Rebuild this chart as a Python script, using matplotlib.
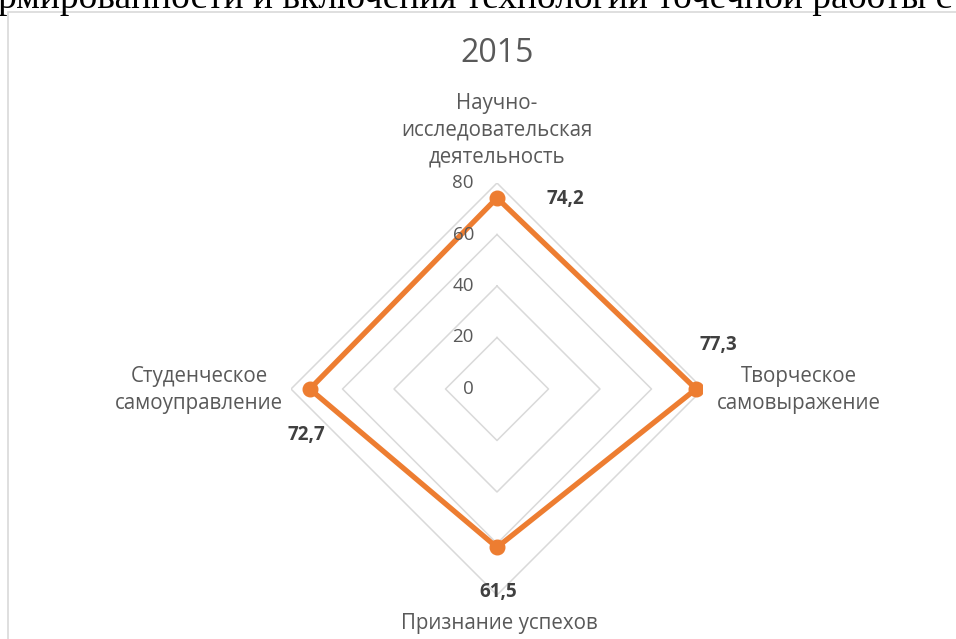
import numpy as np
import matplotlib
matplotlib.use("Agg")
import matplotlib.pyplot as plt
from matplotlib.patches import Rectangle

# data
categories = ["Научно-\nисследовательская\nдеятельность",
              "Творческое\nсамовыражение",
              "Признание успехов",
              "Студенческое\nсамоуправление"]
values = [74.2, 77.3, 61.5, 72.7]
value_labels = ["74,2", "77,3", "61,5", "72,7"]
rings = [20, 40, 60, 80]
tick_values = [0, 20, 40, 60, 80]
title = "2015"
doc_line = "рмированности и включения технологии точечной работы с"

ORANGE = "#ED7D31"
GRID = "#D9D9D9"
GRAY = "#595959"
DARK = "#404040"
FONT = ["Open Sans", "DejaVu Sans"]

W, H = 956, 639
fig = plt.figure(figsize=(W / 100, H / 100), dpi=100)
fig.patch.set_facecolor("white")

# chart frame (Word embedded chart border)
fig.patches.append(Rectangle((7.5 / W, -0.1), 1.2, (H - 12) / H + 0.1,
                             transform=fig.transFigure, fill=False,
                             edgecolor=GRID, linewidth=1.2))

# cut-off line of document text above the chart
fig.text(-2 / W, 1 - 8 / H, doc_line, family=["Liberation Serif"],
         fontsize=27, color="black", ha="left", va="baseline")

cx, cy, R = 497, H - 389, 206
ax = fig.add_axes([(cx - R) / W, (cy - R) / H, 2 * R / W, 2 * R / H],
                  projection="polar")
ax.set_theta_zero_location("N")
ax.set_theta_direction(-1)
ax.set_ylim(0, 80)
ax.grid(False)
ax.spines["polar"].set_visible(False)
ax.set_xticks([])
ax.set_yticks([])
ax.patch.set_alpha(0)

n = len(values)
theta = np.arange(n) * 2 * np.pi / n
closed_t = np.append(theta, theta[0])

for r in rings:
    ax.plot(closed_t, [r] * (n + 1), color=GRID, lw=1.1, zorder=1)

ax.plot(closed_t, values + values[:1], color=ORANGE, lw=3.8, zorder=3,
        solid_joinstyle="round")
ax.plot(theta, values, "o", color=ORANGE, ms=10.5, zorder=4)

# radial tick labels
for v in tick_values:
    ax.annotate(str(v), (0, v), xytext=(-23, 0), textcoords="offset pixels",
                ha="right", va="center", fontsize=13.5, color=GRAY,
                family=FONT)

# data labels
offsets = [(68, -1), (22, 44), (1, -45), (-3, -46)]
for t, v, lab, off in zip(theta, values, value_labels, offsets):
    ax.annotate(lab, (t, v), xytext=off, textcoords="offset pixels",
                ha="center", va="center", fontsize=13.5, color=DARK,
                fontweight="bold", family=FONT)

# category labels
cat_offsets = [(0, 53), (96, -1), (2, -28), (-92, -1)]
for t, lab, off in zip(theta, categories, cat_offsets):
    ax.annotate(lab, (t, 80), xytext=off, textcoords="offset pixels",
                ha="center", va="center", ma="center", fontsize=14.8,
                color=GRAY, family=FONT, linespacing=1.35,
                annotation_clip=False)

fig.text(cx / W, 1 - 54 / H, title, ha="center", va="center",
         fontsize=23, color=GRAY, family=FONT)

fig.savefig("out.png", dpi=100, facecolor="white")
